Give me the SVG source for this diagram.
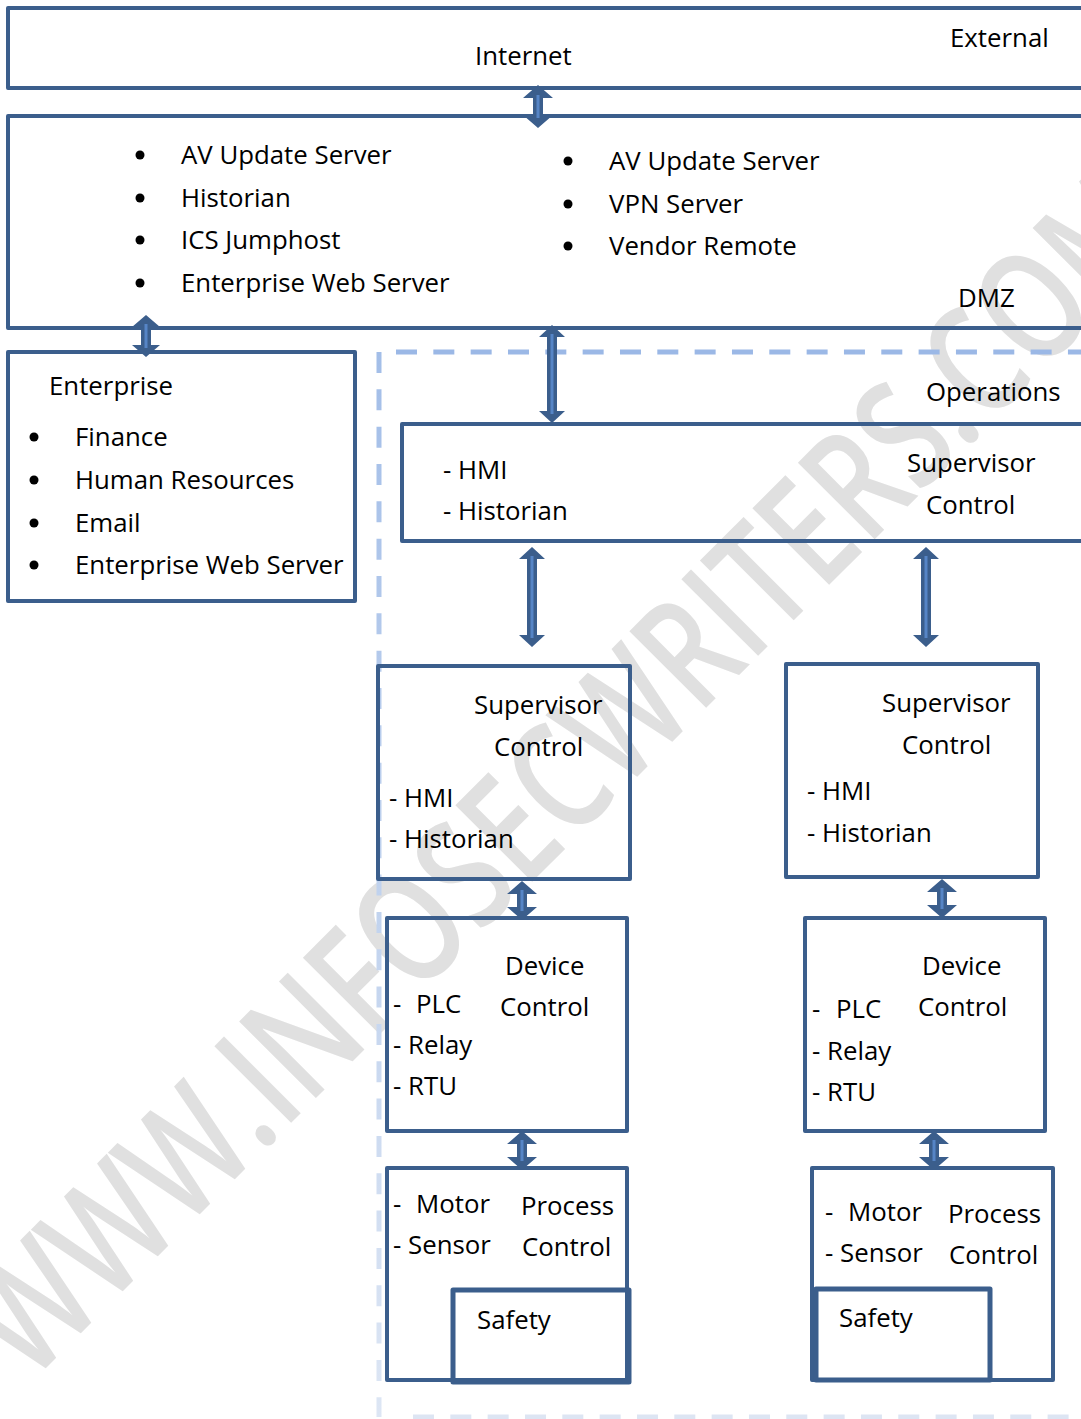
<svg xmlns="http://www.w3.org/2000/svg" width="1081" height="1419" viewBox="0 0 1081 1419">
<style>
text{font-family:"Open Sans","Noto Sans","Liberation Sans",sans-serif;font-size:25.8px;fill:#000}
.box{fill:none;stroke:#3B5E8C;stroke-width:4;stroke-linejoin:round}
.arr{fill:#3B5E8C}
.arl{stroke:#5685C6;stroke-width:3}
.dash{fill:none;stroke-width:5;stroke-dasharray:21 16.33}
.wm{font-family:"Open Sans","Liberation Sans",sans-serif;font-size:152px;font-weight:600;fill:#e0e0e0}
</style>
<defs>
<linearGradient id="lg" gradientUnits="userSpaceOnUse" x1="0" y1="352" x2="0" y2="1417">
<stop offset="0" stop-color="#A3BEE8"/>
<stop offset="1" stop-color="#DDE6F4"/>
</linearGradient>
</defs>
<rect width="1081" height="1419" fill="#fff"/>
<text class="wm" transform="translate(30,1384) rotate(-45)" textLength="1622" lengthAdjust="spacingAndGlyphs">WWW.INFOSECWRITERS.COM</text>

<g id="operations">
<line class="dash" x1="396" y1="352" x2="1081" y2="352" stroke="#9BB8E6"/>
<line class="dash" x1="379" y1="352" x2="379" y2="1417" stroke="url(#lg)"/>
<line class="dash" x1="413" y1="1417" x2="1081" y2="1417" stroke="#DDE5F3"/>
<text x="926" y="401">Operations</text>
</g>

<g id="internet">
<rect class="box" x="8" y="8" width="1090" height="80"/>
<text x="475" y="65">Internet</text>
<text x="950" y="47">External</text>
</g>

<g id="dmz">
<rect class="box" x="8" y="116" width="1090" height="212"/>
<circle cx="140" cy="155" r="4.5"/><circle cx="140" cy="198" r="4.5"/><circle cx="140" cy="240" r="4.5"/><circle cx="140" cy="283" r="4.5"/>
<text x="181" y="164">AV Update Server</text>
<text x="181" y="207">Historian</text>
<text x="181" y="249">ICS Jumphost</text>
<text x="181" y="292">Enterprise Web Server</text>
<circle cx="568" cy="161" r="4.5"/><circle cx="568" cy="204" r="4.5"/><circle cx="568" cy="246" r="4.5"/>
<text x="609" y="170">AV Update Server</text>
<text x="609" y="213">VPN Server</text>
<text x="609" y="255">Vendor Remote</text>
<text x="958" y="307">DMZ</text>
</g>

<g id="enterprise">
<rect class="box" x="8" y="352" width="347" height="249"/>
<text x="49" y="395">Enterprise</text>
<circle cx="34" cy="437" r="4.5"/><circle cx="34" cy="480" r="4.5"/><circle cx="34" cy="523" r="4.5"/><circle cx="34" cy="565" r="4.5"/>
<text x="75" y="446">Finance</text>
<text x="75" y="489">Human Resources</text>
<text x="75" y="532">Email</text>
<text x="75" y="574">Enterprise Web Server</text>
</g>

<g id="supervisor-top">
<rect class="box" x="402" y="424" width="700" height="117"/>
<text x="443" y="479">- HMI</text>
<text x="443" y="520">- Historian</text>
<text x="907" y="472">Supervisor</text>
<text x="926" y="514">Control</text>
</g>

<g id="supervisor-left">
<rect class="box" x="378" y="666" width="252" height="213"/>
<text x="474" y="714">Supervisor</text>
<text x="494" y="756">Control</text>
<text x="389" y="807">- HMI</text>
<text x="389" y="848">- Historian</text>
</g>

<g id="supervisor-right">
<rect class="box" x="786" y="664" width="252" height="213"/>
<text x="882" y="712">Supervisor</text>
<text x="902" y="754">Control</text>
<text x="807" y="800">- HMI</text>
<text x="807" y="842">- Historian</text>
</g>

<g id="device-left">
<rect class="box" x="387" y="918" width="240" height="213"/>
<text x="505" y="975">Device</text>
<text x="500" y="1016">Control</text>
<text x="393" y="1013">-<tspan x="416">PLC</tspan></text>
<text x="393" y="1054">- Relay</text>
<text x="393" y="1095">- RTU</text>
</g>

<g id="device-right">
<rect class="box" x="805" y="918" width="240" height="213"/>
<text x="922" y="975">Device</text>
<text x="918" y="1016">Control</text>
<text x="812" y="1018">-<tspan x="836">PLC</tspan></text>
<text x="812" y="1060">- Relay</text>
<text x="812" y="1101">- RTU</text>
</g>

<g id="process-left">
<rect class="box" x="387" y="1168" width="240" height="212"/>
<text x="393" y="1213">-<tspan x="416">Motor</tspan></text>
<text x="393" y="1254">- Sensor</text>
<text x="521" y="1215">Process</text>
<text x="522" y="1256">Control</text>
</g>
<g id="safety-left">
<rect class="box" x="453" y="1290" width="176" height="92" style="stroke-width:5"/>
<text x="477" y="1329">Safety</text>
</g>

<g id="process-right">
<rect class="box" x="812" y="1168" width="241" height="212"/>
<text x="825" y="1221">-<tspan x="848">Motor</tspan></text>
<text x="825" y="1262">- Sensor</text>
<text x="948" y="1223">Process</text>
<text x="949" y="1264">Control</text>
</g>
<g id="safety-right">
<rect class="box" x="816" y="1289" width="174" height="91" style="stroke-width:5"/>
<text x="839" y="1327">Safety</text>
</g>

<g id="connectors">
<path class="arr" d="M538,85 L553,98 L543,98 L543,115 L553,115 L538,128 L523,115 L533,115 L533,98 L523,98 Z"/>
<line class="arl" x1="538" y1="95" x2="538" y2="118"/>
<path class="arr" d="M146,315 L160,327 L151,327 L151,345 L160,345 L146,357 L132,345 L141,345 L141,327 L132,327 Z"/>
<line class="arl" x1="146" y1="324" x2="146" y2="348"/>
<path class="arr" d="M552,325 L565,337 L557,337 L557,411 L565,411 L552,423 L539,411 L547,411 L547,337 L539,337 Z"/>
<line class="arl" x1="552" y1="334" x2="552" y2="414"/>
<path class="arr" d="M532,547 L545,559 L537,559 L537,635 L545,635 L532,647 L519,635 L527,635 L527,559 L519,559 Z"/>
<line class="arl" x1="532" y1="556" x2="532" y2="638"/>
<path class="arr" d="M926,547 L939,559 L931,559 L931,635 L939,635 L926,647 L913,635 L921,635 L921,559 L913,559 Z"/>
<line class="arl" x1="926" y1="556" x2="926" y2="638"/>
<path class="arr" d="M522,881 L537,894 L527,894 L527,907 L537,907 L522,920 L507,907 L517,907 L517,894 L507,894 Z"/>
<line class="arl" x1="522" y1="890" x2="522" y2="911"/>
<path class="arr" d="M942,879 L957,892 L947,892 L947,905 L957,905 L942,918 L927,905 L937,905 L937,892 L927,892 Z"/>
<line class="arl" x1="942" y1="888" x2="942" y2="909"/>
<path class="arr" d="M522,1131 L537,1144 L527,1144 L527,1157 L537,1157 L522,1170 L507,1157 L517,1157 L517,1144 L507,1144 Z"/>
<line class="arl" x1="522" y1="1140" x2="522" y2="1161"/>
<path class="arr" d="M934,1131 L949,1144 L939,1144 L939,1157 L949,1157 L934,1170 L919,1157 L929,1157 L929,1144 L919,1144 Z"/>
<line class="arl" x1="934" y1="1140" x2="934" y2="1161"/>
</g>
</svg>
